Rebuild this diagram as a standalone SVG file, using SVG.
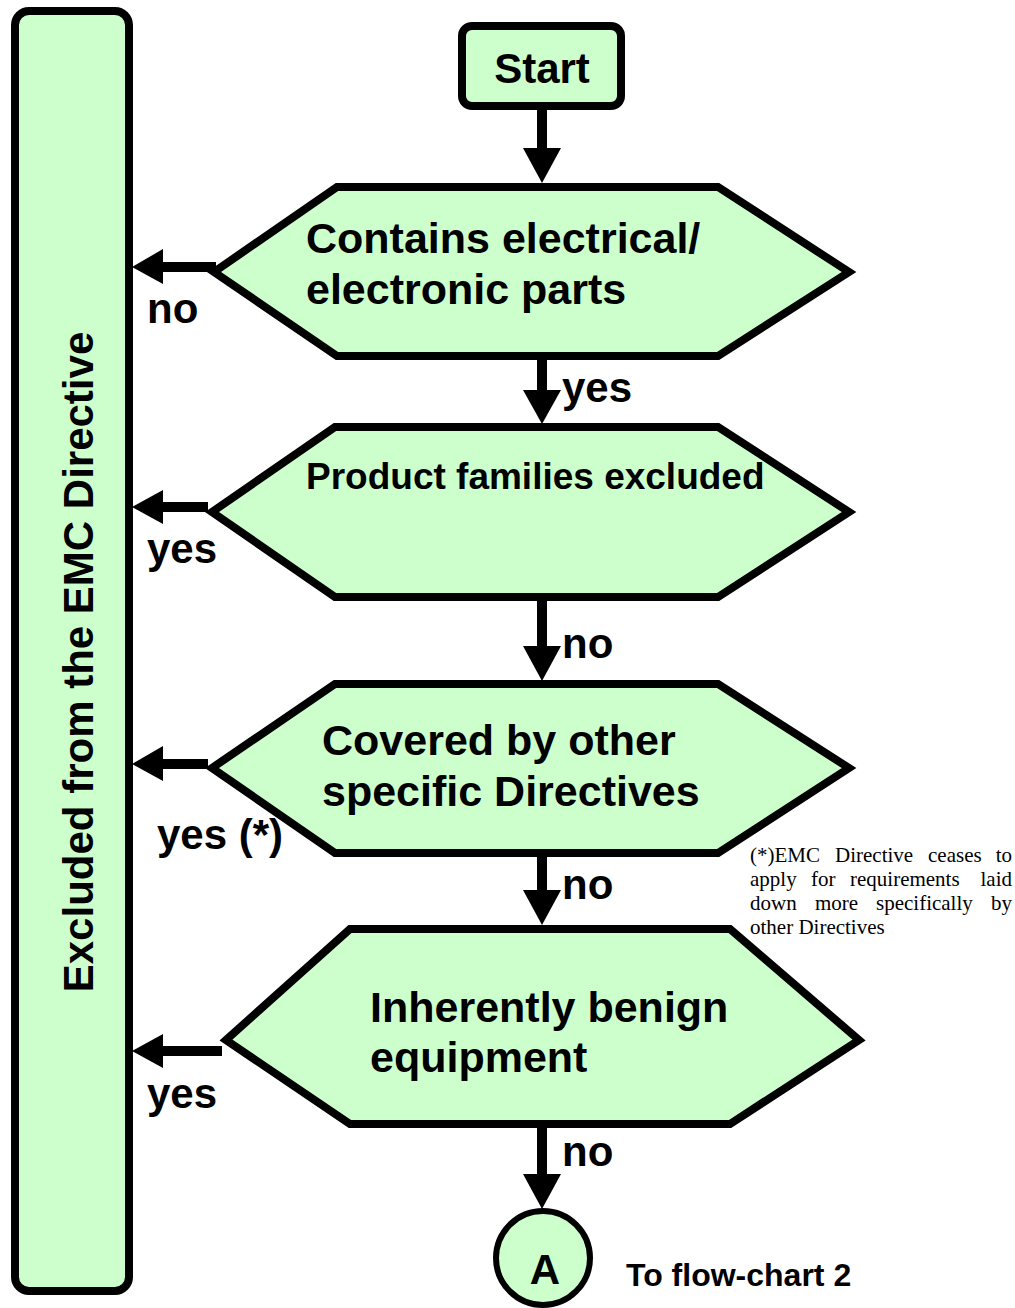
<svg xmlns="http://www.w3.org/2000/svg" width="1015" height="1308" viewBox="0 0 1015 1308">
<defs>
<style>
.node{fill:#CCFFCC;stroke:#000;stroke-width:8;stroke-linejoin:miter}
.lbl{font-family:"Liberation Sans",Arial,sans-serif;font-weight:bold;fill:#000}
.t43{font-size:43px}
.t42{font-size:42px}
.note{font-family:"Liberation Serif","Times New Roman",serif;font-size:21px;fill:#000}
.shaft{stroke:#000;stroke-width:10;fill:none}
.head{fill:#000}
</style>
</defs>
<rect width="1015" height="1308" fill="#fff"/>
<g id="excluded">
<rect class="node" x="15" y="11" width="114" height="1280" rx="14"/>
<text class="lbl t42" transform="translate(78,662) rotate(-90)" text-anchor="middle" dominant-baseline="central">Excluded from the EMC Directive</text>
</g>
<g id="start">
<rect class="node" x="462" y="26" width="159" height="80" rx="10"/>
<text class="lbl t42" x="542" y="83" text-anchor="middle">Start</text>
</g>
<g id="q1">
<polygon class="node" points="214,272 337,187 718,187 849,272 718,356 337,356"/>
<text class="lbl t43" x="306" y="253">Contains electrical/</text>
<text class="lbl t43" x="306" y="304">electronic parts</text>
</g>
<g id="q2">
<polygon class="node" points="212,512 335,427 718,427 849,512 718,597 335,597"/>
<text class="lbl" style="font-size:37px" x="306" y="489">Product families excluded</text>
</g>
<g id="q3">
<polygon class="node" points="212,768 335,684 718,684 849,768 718,853 335,853"/>
<text class="lbl t43" x="322" y="755">Covered by other</text>
<text class="lbl t43" x="322" y="806">specific Directives</text>
</g>
<g id="q4">
<polygon class="node" points="226,1040 350,929 730,929 859,1040 730,1124 350,1124"/>
<text class="lbl t43" x="370" y="1022">Inherently benign</text>
<text class="lbl t43" x="370" y="1072">equipment</text>
</g>
<g id="connA">
<circle class="node" cx="543" cy="1258" r="47" style="stroke-width:6"/>
<text class="lbl t42" x="545" y="1284" text-anchor="middle">A</text>
</g>
<g id="connectors">
<line class="shaft" x1="542" y1="108" x2="542" y2="150"/>
<polygon class="head" points="523,148 561,148 542,183"/>
<line class="shaft" x1="542" y1="360" x2="542" y2="392"/>
<polygon class="head" points="523,390 561,390 542,424"/>
<line class="shaft" x1="542" y1="601" x2="542" y2="648"/>
<polygon class="head" points="523,646 561,646 542,681"/>
<line class="shaft" x1="542" y1="857" x2="542" y2="892"/>
<polygon class="head" points="523,890 561,890 542,925"/>
<line class="shaft" x1="542" y1="1128" x2="542" y2="1176"/>
<polygon class="head" points="523,1174 561,1174 542,1209"/>
<line class="shaft" x1="216" y1="267" x2="160" y2="267"/>
<polygon class="head" points="132,267 163,249 163,284"/>
<line class="shaft" x1="208" y1="507" x2="160" y2="507"/>
<polygon class="head" points="132,507 163,490 163,524"/>
<line class="shaft" x1="208" y1="764" x2="160" y2="764"/>
<polygon class="head" points="132,764 163,746 163,781"/>
<line class="shaft" x1="222" y1="1051" x2="160" y2="1051"/>
<polygon class="head" points="132,1051 163,1034 163,1068"/>
</g>
<g id="labels">
<text class="lbl t42" x="562" y="402">yes</text>
<text class="lbl t42" x="562" y="658">no</text>
<text class="lbl t42" x="562" y="899">no</text>
<text class="lbl t42" x="562" y="1166">no</text>
<text class="lbl t42" x="147" y="323">no</text>
<text class="lbl t42" x="147" y="563">yes</text>
<text class="lbl t42" x="157" y="849">yes (*)</text>
<text class="lbl t42" x="147" y="1108">yes</text>
<text class="lbl" style="font-size:32px" x="626" y="1286">To flow-chart 2</text>
</g>
<g id="footnote" class="note">
<text x="750" y="862">(*)EMC</text><text x="835" y="862">Directive</text><text x="928" y="862">ceases</text><text x="1012" y="862" text-anchor="end">to</text>
<text x="750" y="886">apply</text><text x="811" y="886">for</text><text x="850" y="886">requirements</text><text x="1012" y="886" text-anchor="end">laid</text>
<text x="750" y="910">down</text><text x="815" y="910">more</text><text x="876" y="910">specifically</text><text x="1012" y="910" text-anchor="end">by</text>
<text x="750" y="934">other Directives</text>
</g>
</svg>
